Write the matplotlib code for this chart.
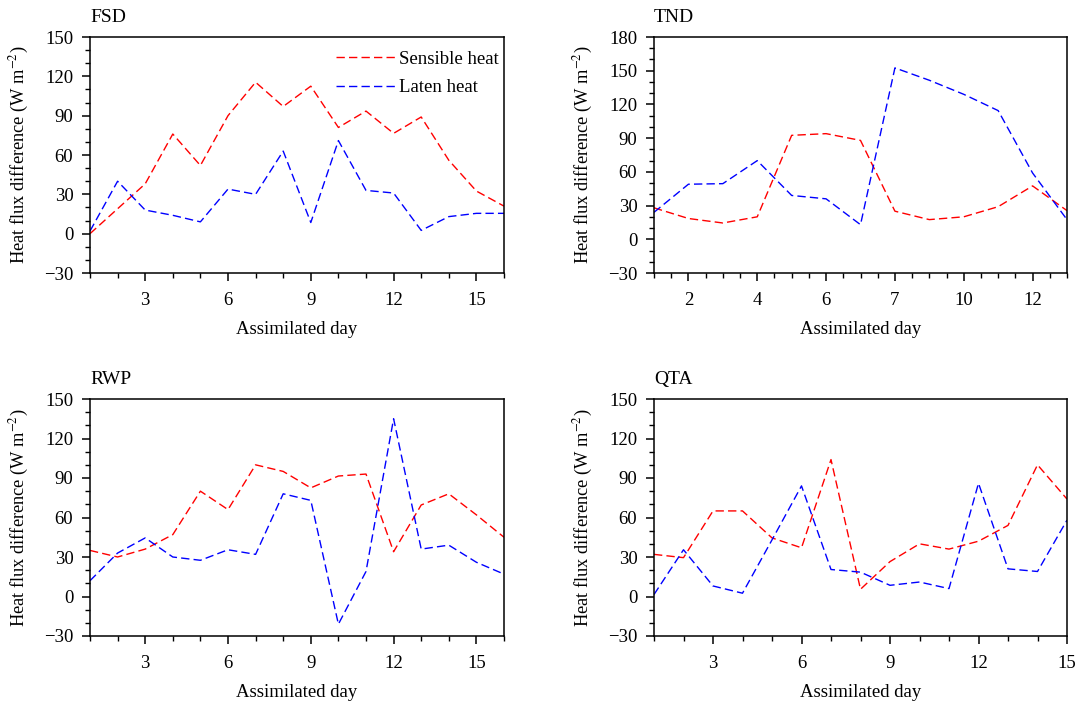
import numpy as np
import matplotlib.pyplot as plt
from matplotlib.ticker import MultipleLocator

plt.rcParams['font.family'] = ['Liberation Serif', 'DejaVu Serif']
plt.rcParams['mathtext.fontset'] = 'stix'

# FSD station, days 1-16
fsd_days = np.arange(1, 17)
fsd_sens = [0, 19, 38, 76, 52, 90, 115.5, 97, 112.5, 81, 93.5, 76.5, 89, 56, 32.5, 21]
fsd_lat = [2, 40, 18, 14, 9, 34, 30, 63, 8.5, 71, 33, 31, 2.5, 13, 15.5, 15.5]

# TND station, days 1-13
tnd_days = np.arange(1, 14)
tnd_sens = [28, 18.5, 14.5, 20, 92.5, 94, 88, 25, 17.5, 20, 29, 47.5, 25.5]
tnd_lat = [24, 49, 49.5, 70, 39, 36, 13, 152.5, 141.5, 129, 114.5, 59, 17.5]
tnd_ticks = [2, 4, 6, 8, 10, 12]
tnd_ticklabels = ['2', '4', '6', '7', '10', '12']

# RWP station, days 1-16
rwp_days = np.arange(1, 17)
rwp_sens = [35, 30, 36, 47, 80, 66, 100, 95, 82.5, 91.5, 93, 34, 69.5, 78, 62, 45]
rwp_lat = [12, 33, 44.5, 30, 27.5, 35.5, 32, 78, 73, -21, 19, 135, 36, 39, 26, 17]

# QTA station, days 1-15
qta_days = np.arange(1, 16)
qta_sens = [32, 29.5, 65, 65, 44.5, 37, 104, 5.5, 26.5, 40, 36, 42, 54, 100, 74]
qta_lat = [1.5, 35.5, 8, 2.5, 43, 84, 20.5, 18.5, 8.5, 11, 6, 86, 21, 19, 58]

fig = plt.figure(figsize=(10.76, 7.05), dpi=100)
W, H = 1076.0, 705.0

def make_ax(x0, y0, x1, y1):
    return fig.add_axes([x0 / W, 1 - y1 / H, (x1 - x0) / W, (y1 - y0) / H])

panels = [
    ('FSD', make_ax(90, 37, 504, 273), fsd_days, fsd_sens, fsd_lat, (-30, 150)),
    ('TND', make_ax(654, 37, 1067, 273), tnd_days, tnd_sens, tnd_lat, (-30, 180)),
    ('RWP', make_ax(90, 399, 504, 636), rwp_days, rwp_sens, rwp_lat, (-30, 150)),
    ('QTA', make_ax(654, 399, 1067, 636), qta_days, qta_sens, qta_lat, (-30, 150)),
]

dash = (0, (6, 3))
for name, ax, days, sens, lat, ylim in panels:
    ax.plot(days, sens, color='#ff0000', lw=1.0, linestyle=dash, label='Sensible heat')
    ax.plot(days, lat, color='#0000ff', lw=1.0, linestyle=dash, label='Laten heat')
    ax.set_xlim(days[0], days[-1])
    ax.set_ylim(*ylim)
    ax.yaxis.set_major_locator(MultipleLocator(30))
    ax.yaxis.set_minor_locator(MultipleLocator(10))
    if name == 'TND':
        ax.set_xticks(tnd_ticks)
        ax.set_xticklabels(tnd_ticklabels)
        ax.xaxis.set_minor_locator(MultipleLocator(0.5))
    else:
        ax.xaxis.set_major_locator(MultipleLocator(3))
        ax.xaxis.set_minor_locator(MultipleLocator(1))
    ax.tick_params(which='major', direction='out', length=6, width=1.1, labelsize=13.5, pad=6)
    ax.tick_params(which='minor', direction='out', length=3.5, width=1.0)
    ax.tick_params(axis='x', which='major', pad=8)
    for sp in ax.spines.values():
        sp.set_linewidth(1.1)
    ax.set_xlabel('Assimilated day', fontsize=13.5, labelpad=8)
    ax.set_ylabel('Heat flux difference (W m$^{-2}$)', fontsize=13.2, labelpad=9)
    ax.set_title(name, fontsize=14, loc='left', pad=11)

fsd_ax = panels[0][1]
fsd_ax.legend(loc='upper right', bbox_to_anchor=(1.004, 0.97), frameon=False,
              fontsize=13.5, handlelength=3.3, handletextpad=0.1, borderpad=0.25,
              borderaxespad=0.1, labelspacing=0.6)

fig.savefig('out.png', dpi=100)
